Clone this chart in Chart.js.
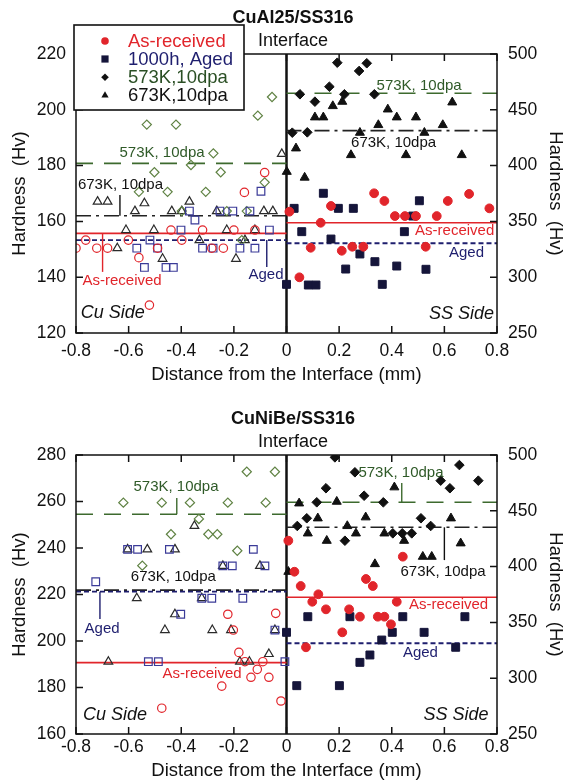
<!DOCTYPE html>
<html>
<head>
<meta charset="utf-8">
<script src="https://cdn.jsdelivr.net/npm/chart.js@4.4.1/dist/chart.umd.min.js"></script>
<style>
  body { margin: 0; background: #fff; }
  canvas { display: block; }
</style>
</head>
<body>
<canvas id="topChart" width="563" height="392"></canvas>
<canvas id="bottomChart" width="563" height="392"></canvas>
<script>
'use strict';

const xTicks = [-0.8, -0.6, -0.4, -0.2, 0, 0.2, 0.4, 0.6, 0.8];
const topLeftTicks = [120, 140, 160, 180, 200, 220];
const bottomLeftTicks = [160, 180, 200, 220, 240, 260, 280];
const rightTicks = [250, 300, 350, 400, 450, 500];

const seriesNames = ['As-received', '1000h, Aged', '573K,10dpa', '673K,10dpa'];

// CuAl25/SS316 - Cu side, left axis (Hv)
const al_cu_asReceived = [[-0.083,177.5],[-0.16,170.4],[-0.439,156.9],[-0.319,156.9],[-0.2,156.9],[-0.12,156.9],[-0.763,153.3],[-0.601,153.3],[-0.398,153.3],[-0.8,150.4],[-0.721,150.4],[-0.68,150.4],[-0.49,150.4],[-0.284,150.4],[-0.24,150.4],[-0.561,147],[-0.521,130]];
const al_cu_aged = [[-0.097,170.8],[-0.369,163.7],[-0.253,163.7],[-0.204,163.7],[-0.139,163.7],[-0.348,160.5],[-0.401,156.9],[-0.065,156.9],[-0.519,153.3],[-0.569,150.4],[-0.49,150.4],[-0.319,150.4],[-0.279,150.4],[-0.177,150.4],[-0.12,150.4],[-0.54,143.5],[-0.458,143.5],[-0.43,143.5]];
const al_cu_573 = [[-0.055,204.6],[-0.109,197.9],[-0.531,194.7],[-0.42,194.7],[-0.278,184.4],[-0.363,180.2],[-0.502,177.6],[-0.25,177.6],[-0.083,174],[-0.561,170.6],[-0.452,170.6],[-0.307,170.6],[-0.398,163.7],[-0.227,163.7],[-0.151,163.7],[-0.17,153.3]];
const al_cu_673 = [[-0.018,184.2],[-0.718,167.1],[-0.68,167.1],[-0.54,166.5],[-0.369,167.1],[-0.576,163.7],[-0.436,163.7],[-0.398,163.7],[-0.265,163.7],[-0.086,163.7],[-0.052,163.7],[-0.61,156.9],[-0.504,156.9],[-0.227,156.9],[-0.12,156.9],[-0.331,153.3],[-0.158,153.3],[-0.643,150.4],[-0.471,146.6],[-0.192,146.6]];
// CuAl25/SS316 - SS side, right axis (Hv)
const al_ss_asReceived = [[0.011,358.7],[0.333,375.2],[0.372,368.3],[0.169,363.8],[0.412,354.8],[0.45,354.8],[0.492,354.8],[0.571,354.8],[0.613,368.3],[0.694,374.6],[0.771,361.7],[0.13,348.8],[0.092,326.4],[0.21,323.7],[0.25,327.3],[0.292,327.3],[0.529,327.3],[0.049,299.9]];
const al_ss_aged = [[0.029,361.7],[0.14,375.2],[0.197,361.7],[0.254,361.7],[0.505,368.5],[0.48,354.8],[0.058,340.8],[0.448,340.8],[0.169,334.2],[0.279,320.8],[0.336,313.9],[0.225,307.3],[0.419,310],[0.53,307.1],[0.0,293.6],[0.083,293],[0.112,293],[0.364,293.6]];
const al_ss_573 = [[0.193,492.2],[0.276,484.8],[0.305,491.7],[0.163,470.7],[0.051,463.9],[0.22,463.9],[0.334,463.9],[0.108,457.3],[0.022,429.5],[0.079,429.8]];
const al_ss_673 = [[0.176,453.4],[0.212,457.3],[0.108,443.3],[0.14,443.3],[0.385,450.4],[0.419,443.3],[0.492,443.3],[0.63,456.7],[0.349,436.4],[0.594,436.4],[0.279,429.5],[0.524,429.5],[0.036,415.5],[0.245,409.5],[0.454,409.5],[0.666,409.5],[0.001,394.5],[0.069,389.3]];
// averages: [Cu side (left axis), SS side (right axis)]
const al_avg = [[155.7, 348.8], [153.3, 330.4], [180.8, 464.8], [162, 431.3]];

// CuNiBe/SS316 - Cu side
const nb_cu_asReceived = [[-0.223,211.5],[-0.041,211.9],[-0.202,204.7],[-0.181,195.1],[-0.158,191.1],[-0.09,191.1],[-0.111,187.8],[-0.135,184.4],[-0.067,184.4],[-0.246,180.6],[-0.021,174.2],[-0.474,171.1]];
const nb_cu_aged = [[-0.604,239.4],[-0.566,239.4],[-0.445,239.4],[-0.126,239.4],[-0.242,232.3],[-0.206,232.3],[-0.082,232.3],[-0.725,225.5],[-0.322,218.4],[-0.284,218.4],[-0.166,218.4],[-0.402,211.5],[-0.044,204.7],[-0.525,191.1],[-0.487,191.1],[-0.006,191.1]];
const nb_cu_573 = [[-0.151,272.8],[-0.044,272.8],[-0.62,259.5],[-0.474,259.5],[-0.367,259.5],[-0.223,259.5],[-0.079,259.5],[-0.333,252.5],[-0.439,245.9],[-0.297,245.9],[-0.263,245.9],[-0.187,238.8],[-0.548,232.4]];
const nb_cu_673 = [[-0.35,249.5],[-0.604,239.4],[-0.529,239.4],[-0.424,239.4],[-0.242,232.3],[-0.101,232.3],[-0.569,218.4],[-0.322,218.4],[-0.424,211.5],[-0.462,204.7],[-0.282,204.7],[-0.211,204.7],[-0.044,204.7],[-0.067,194.4],[-0.677,191.1],[-0.177,191.1],[-0.141,191.1]];
// CuNiBe/SS316 - SS side
const nb_ss_asReceived = [[0.007,423.2],[0.442,408.9],[0.03,395.4],[0.054,382.6],[0.302,388.9],[0.328,382.6],[0.121,375.2],[0.098,368.5],[0.15,361.7],[0.238,361.7],[0.419,368.5],[0.279,355.1],[0.347,355.1],[0.372,355.1],[0.397,348.3],[0.212,341.1],[0.074,327.7]];
const nb_ss_aged = [[0.081,355.1],[0.241,355.1],[0.442,355.1],[0.678,355.1],[0.0,341.1],[0.402,341.1],[0.523,341.1],[0.362,334.2],[0.643,327.7],[0.317,320.8],[0.279,314.2],[0.039,293.3],[0.201,293.3]];
const nb_ss_573 = [[0.184,497.9],[0.26,484.5],[0.657,491],[0.586,477],[0.729,477],[0.621,470.2],[0.15,470.2],[0.295,463.5],[0.115,457.6],[0.368,457.6],[0.077,443.3],[0.041,436.4],[0.511,443.3],[0.548,436.4],[0.222,423.2],[0.404,429.8],[0.44,429.8],[0.476,429.8]];
const nb_ss_673 = [[0.048,456.7],[0.191,458.2],[0.41,471.1],[0.119,443.3],[0.301,444.2],[0.625,443.3],[0.231,436.4],[0.081,429.8],[0.264,429.8],[0.372,429.8],[0.153,423.2],[0.447,423.2],[0.662,420.9],[0.518,408.9],[0.552,408.9],[0.336,402.3],[0.007,395.4]];
const nb_avg = [[190.7, 372.5], [221.2, 331.3], [254.5, 457.6], [221.9, 435.2]];

const RED = '#e1252b';
const NAVY = '#1e1e6e';
const GREEN = '#3d6a2e';
const BLACK = '#111111';

// marker / line styles for the 4 series
const styles = [
  { shape: 'circle', cuColor: RED, ssColor: RED, cuR: 4.2, ssR: 4.4, line: RED, dash: [], lw: 1.6, text: RED },
  { shape: 'rect', cuColor: '#3b3b98', ssColor: '#15153a', cuR: 5.4, ssR: 5.6, line: NAVY, dash: [5, 3], lw: 1.8, text: NAVY },
  { shape: 'rectRot', cuColor: '#5f8243', ssColor: BLACK, cuR: 4.6, ssR: 4.8, line: GREEN, dash: [17, 11], lw: 1.6, text: '#2a4f24' },
  { shape: 'triangle', cuColor: '#2a2a2a', ssColor: BLACK, cuR: 5, ssR: 5.2, line: '#222222', dash: [15, 5, 3, 5], lw: 1.6, text: BLACK }
];

function toXY(arr) {
  return arr.map(p => ({ x: p[0], y: p[1] }));
}

function buildDatasets(cu, ss, avg) {
  const sets = [];
  styles.forEach((s, i) => {
    sets.push({
      type: 'line', data: [{ x: -0.8, y: avg[i][0] }, { x: 0, y: avg[i][0] }], yAxisID: 'yL',
      borderColor: s.line, borderWidth: s.lw, borderDash: s.dash, pointRadius: 0, fill: false, order: 2
    });
    sets.push({
      type: 'line', data: [{ x: 0, y: avg[i][1] }, { x: 0.8, y: avg[i][1] }], yAxisID: 'yR',
      borderColor: s.line, borderWidth: s.lw, borderDash: s.dash, pointRadius: 0, fill: false, order: 2
    });
  });
  styles.forEach((s, i) => {
    sets.push({
      label: seriesNames[i] + ' (Cu)', data: toXY(cu[i]), yAxisID: 'yL', showLine: false,
      pointStyle: s.shape, pointRadius: s.cuR, borderColor: s.cuColor, backgroundColor: 'rgba(0,0,0,0)',
      borderWidth: 1.2, order: 1
    });
    sets.push({
      label: seriesNames[i] + ' (SS)', data: toXY(ss[i]), yAxisID: 'yR', showLine: false,
      pointStyle: s.shape, pointRadius: s.ssR, borderColor: s.ssColor, backgroundColor: s.ssColor,
      borderWidth: 1, order: 1
    });
  });
  return sets;
}

function drawShape(ctx, shape, x, y, r) {
  ctx.beginPath();
  if (shape === 'circle') {
    ctx.arc(x, y, r, 0, Math.PI * 2);
  } else if (shape === 'rect') {
    ctx.rect(x - r, y - r, 2 * r, 2 * r);
  } else if (shape === 'rectRot') {
    ctx.moveTo(x, y - r); ctx.lineTo(x + r, y); ctx.lineTo(x, y + r); ctx.lineTo(x - r, y);
    ctx.closePath();
  } else {
    ctx.moveTo(x, y - r); ctx.lineTo(x + r * 0.95, y + r * 0.65); ctx.lineTo(x - r * 0.95, y + r * 0.65);
    ctx.closePath();
  }
  ctx.fill();
}

const panelDeco = {
  id: 'panelDeco',
  beforeDatasetsDraw(chart, args, opts) {
    const { ctx, chartArea: { top, bottom } } = chart;
    const px = chart.scales.x.getPixelForValue(0);
    ctx.save();
    ctx.strokeStyle = BLACK;
    ctx.lineWidth = 2.5;
    ctx.beginPath(); ctx.moveTo(px, top); ctx.lineTo(px, bottom); ctx.stroke();
    ctx.restore();
  },
  afterDraw(chart, args, opts) {
    const { ctx, chartArea: { left, right, top, bottom } } = chart;
    const xs = chart.scales.x, yl = chart.scales.yL, yr = chart.scales.yR;
    ctx.save();
    // frame + inward ticks
    ctx.strokeStyle = BLACK;
    ctx.lineWidth = 1.5;
    ctx.strokeRect(left, top, right - left, bottom - top);
    ctx.beginPath();
    xs.ticks.forEach(t => {
      const p = xs.getPixelForValue(t.value);
      ctx.moveTo(p, bottom); ctx.lineTo(p, bottom - 7);
      ctx.moveTo(p, top); ctx.lineTo(p, top + 7);
    });
    yl.ticks.forEach(t => {
      const p = yl.getPixelForValue(t.value);
      ctx.moveTo(left, p); ctx.lineTo(left + 7, p);
    });
    yr.ticks.forEach(t => {
      const p = yr.getPixelForValue(t.value);
      ctx.moveTo(right, p); ctx.lineTo(right - 7, p);
    });
    ctx.stroke();

    // leader lines
    opts.leaders.forEach(l => {
      const x = xs.getPixelForValue(l.x);
      ctx.strokeStyle = l.color;
      ctx.lineWidth = 1.4;
      ctx.beginPath();
      ctx.moveTo(x, yl.getPixelForValue(l.y1));
      ctx.lineTo(x, yl.getPixelForValue(l.y2));
      ctx.stroke();
    });

    // notes
    ctx.textAlign = 'center';
    ctx.textBaseline = 'middle';
    opts.notes.forEach(n => {
      ctx.fillStyle = n.color || BLACK;
      ctx.font = n.italic ? 'italic 18px "Liberation Sans"' : '15px "Liberation Sans"';
      ctx.fillText(n.text, xs.getPixelForValue(n.x), yl.getPixelForValue(n.y));
    });

    // titles
    ctx.fillStyle = BLACK;
    ctx.font = 'bold 18px "Liberation Sans"';
    ctx.fillText(opts.title, 293, opts.titleY);
    ctx.font = '18px "Liberation Sans"';
    ctx.fillText('Interface', 293, opts.titleY + 23);

    // legend
    if (opts.legend) {
      ctx.fillStyle = '#ffffff';
      ctx.fillRect(74, 25, 170, 85);
      ctx.strokeStyle = BLACK;
      ctx.lineWidth = 1.6;
      ctx.strokeRect(74, 25, 170, 85);
      ctx.textAlign = 'left';
      ctx.font = '18.5px "Liberation Sans"';
      const rows = [41, 59, 77.3, 95];
      styles.forEach((s, i) => {
        ctx.fillStyle = s.ssColor === RED ? RED : (i === 1 ? '#15153a' : BLACK);
        drawShape(ctx, s.shape, 105, rows[i], i === 1 ? 3.6 : 3.8);
        ctx.fillStyle = s.text;
        ctx.fillText(seriesNames[i], 128, rows[i] + 1);
      });
    }
    ctx.restore();
  }
};

function makeOptions(cfg) {
  return {
    responsive: false,
    animation: false,
    layout: { padding: { top: cfg.padTop, left: 0, right: 0, bottom: 0 } },
    plugins: {
      legend: { display: false },
      tooltip: { enabled: false },
      panelDeco: cfg.deco
    },
    scales: {
      x: {
        type: 'linear', min: -0.8, max: 0.8,
        afterBuildTicks: s => { s.ticks = xTicks.map(v => ({ value: v })); },
        afterFit: s => { s.height = cfg.xHeight; },
        grid: { display: false, drawTicks: false },
        border: { display: false },
        ticks: {
          autoSkip: false, maxRotation: 0, padding: cfg.xPad, color: BLACK,
          font: { size: 17.5 },
          callback: v => (v === 0 ? '0' : String(v))
        },
        title: {
          display: true, text: 'Distance from the Interface (mm)', color: BLACK,
          font: { size: 18.5 }, padding: { top: 0, bottom: cfg.xTitlePad }
        }
      },
      yL: {
        type: 'linear', position: 'left', min: cfg.leftTicks[0], max: cfg.leftTicks[cfg.leftTicks.length - 1],
        afterBuildTicks: s => { s.ticks = cfg.leftTicks.map(v => ({ value: v })); },
        afterFit: s => { s.width = 76; },
        grid: { display: false, drawTicks: false },
        border: { display: false },
        ticks: { padding: 10, color: BLACK, font: { size: 17.5 } },
        title: {
          display: true, text: 'Hardness  (Hv)', color: BLACK,
          font: { size: 18.5, lineHeight: 1 }, padding: { top: 11, bottom: 0 }
        }
      },
      yR: {
        type: 'linear', position: 'right', min: 250, max: 500,
        afterBuildTicks: s => { s.ticks = rightTicks.map(v => ({ value: v })); },
        afterFit: s => { s.width = 66; },
        grid: { display: false, drawTicks: false },
        border: { display: false },
        ticks: { padding: 11, color: BLACK, font: { size: 17.5 } },
        title: {
          display: true, text: 'Hardness  (Hv)', color: BLACK,
          font: { size: 18.5, lineHeight: 1 }, padding: { top: -1, bottom: 0 }
        }
      }
    }
  };
}

Chart.defaults.font.family = '"Liberation Sans", Arial, sans-serif';
Chart.defaults.color = BLACK;

new Chart(document.getElementById('topChart'), {
  type: 'scatter',
  data: {
    datasets: buildDatasets(
      [al_cu_asReceived, al_cu_aged, al_cu_573, al_cu_673],
      [al_ss_asReceived, al_ss_aged, al_ss_573, al_ss_673],
      al_avg)
  },
  options: makeOptions({
    padTop: 54, xHeight: 59, xPad: 8, xTitlePad: 6, leftTicks: topLeftTicks,
    deco: {
      title: 'CuAl25/SS316', titleY: 18.5, legend: true,
      notes: [
        { text: '573K, 10dpa', x: -0.473, y: 184.6, color: '#2f5a28' },
        { text: '673K, 10dpa', x: -0.631, y: 173, color: BLACK },
        { text: 'As-received', x: -0.625, y: 138.6, color: RED },
        { text: 'Aged', x: -0.078, y: 140.8, color: NAVY },
        { text: 'Cu Side', x: -0.66, y: 127.2, italic: true },
        { text: '573K, 10dpa', x: 0.504, y: 208.5, color: '#2f5a28' },
        { text: '673K, 10dpa', x: 0.407, y: 188.1, color: BLACK },
        { text: 'As-received', x: 0.639, y: 156.6, color: RED },
        { text: 'Aged', x: 0.684, y: 148.8, color: NAVY },
        { text: 'SS Side', x: 0.665, y: 126.8, italic: true }
      ],
      leaders: [
        { x: -0.633, y1: 169.5, y2: 162, color: BLACK },
        { x: -0.699, y1: 155.7, y2: 141.9, color: RED },
        { x: -0.075, y1: 153.3, y2: 143.7, color: NAVY }
      ]
    }
  }),
  plugins: [panelDeco]
});

new Chart(document.getElementById('bottomChart'), {
  type: 'scatter',
  data: {
    datasets: buildDatasets(
      [nb_cu_asReceived, nb_cu_aged, nb_cu_573, nb_cu_673],
      [nb_ss_asReceived, nb_ss_aged, nb_ss_573, nb_ss_673],
      nb_avg)
  },
  options: makeOptions({
    padTop: 63, xHeight: 50, xPad: 3, xTitlePad: 2, leftTicks: bottomLeftTicks,
    deco: {
      title: 'CuNiBe/SS316', titleY: 27.5, legend: false,
      notes: [
        { text: '573K, 10dpa', x: -0.42, y: 266.4, color: '#2f5a28' },
        { text: '673K, 10dpa', x: -0.43, y: 227.5, color: BLACK },
        { text: 'Aged', x: -0.701, y: 205.2, color: NAVY },
        { text: 'As-received', x: -0.321, y: 185.8, color: RED },
        { text: 'Cu Side', x: -0.652, y: 168.2, italic: true },
        { text: '573K, 10dpa', x: 0.435, y: 272.4, color: '#2f5a28' },
        { text: '673K, 10dpa', x: 0.595, y: 229.8, color: BLACK },
        { text: 'As-received', x: 0.616, y: 215.5, color: RED },
        { text: 'Aged', x: 0.509, y: 194.8, color: NAVY },
        { text: 'SS Side', x: 0.644, y: 168.2, italic: true }
      ],
      leaders: [
        { x: -0.417, y1: 261.5, y2: 254.5, color: GREEN },
        { x: -0.709, y1: 221.2, y2: 209.5, color: NAVY },
        { x: 0.438, y1: 268, y2: 259.7, color: GREEN },
        { x: 0.6, y1: 248.9, y2: 234.8, color: BLACK }
      ]
    }
  }),
  plugins: [panelDeco]
});
</script>
</body>
</html>
